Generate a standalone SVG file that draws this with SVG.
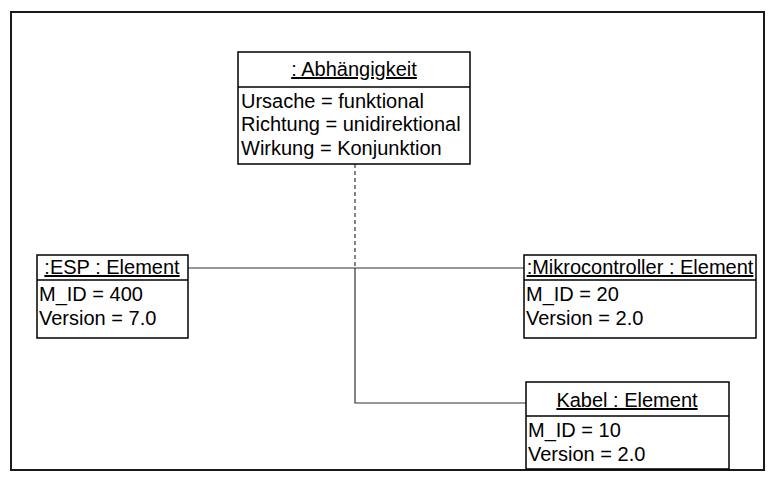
<svg xmlns="http://www.w3.org/2000/svg" width="774" height="500" viewBox="0 0 774 500">
  <style>
    .box { fill: #ffffff; stroke: #000000; stroke-width: 1.5; }
    .sep { stroke: #000000; stroke-width: 1.5; }
    .frame { fill: none; stroke: #1a1a1a; stroke-width: 2; }
    .link { fill: none; stroke: #333333; stroke-width: 1.2; }
    .dash { stroke-dasharray: 4 3; }
    text { font-family: "Liberation Sans", Arial, sans-serif; font-size: 20px; fill: #000000; }
    .hd { text-anchor: middle; text-decoration: underline; }
  </style>

  <!-- outer page border -->
  <rect class="frame" x="11" y="12" width="753" height="458"/>

  <g id="connectors">
    <line class="link" x1="188" y1="268" x2="524" y2="268"/>
    <line class="link dash" x1="355" y1="164" x2="355" y2="268"/>
    <polyline class="link" points="355,268 355,403 526,403"/>
  </g>

  <g id="abhaengigkeit">
    <rect class="box" x="238" y="52" width="232" height="112"/>
    <line class="sep" x1="238" y1="87" x2="470" y2="87"/>
    <text class="hd" x="354" y="76">: Abhängigkeit</text>
    <text x="241" y="108">Ursache = funktional</text>
    <text x="241" y="131">Richtung = unidirektional</text>
    <text x="241" y="155">Wirkung = Konjunktion</text>
  </g>

  <g id="esp">
    <rect class="box" x="37" y="255" width="151" height="83"/>
    <line class="sep" x1="37" y1="280" x2="188" y2="280"/>
    <text class="hd" x="112" y="274">:ESP : Element</text>
    <text x="39" y="301">M_ID = 400</text>
    <text x="39" y="325">Version = 7.0</text>
  </g>

  <g id="mikrocontroller">
    <rect class="box" x="524" y="255" width="232" height="83"/>
    <line class="sep" x1="524" y1="280" x2="756" y2="280"/>
    <text class="hd" x="640" y="274">:Mikrocontroller : Element</text>
    <text x="526" y="301">M_ID = 20</text>
    <text x="526" y="325">Version = 2.0</text>
  </g>

  <g id="kabel">
    <rect class="box" x="526" y="382" width="203" height="87"/>
    <line class="sep" x1="526" y1="416" x2="729" y2="416"/>
    <text class="hd" x="627" y="407">Kabel : Element</text>
    <text x="528" y="437">M_ID = 10</text>
    <text x="528" y="461">Version = 2.0</text>
  </g>
</svg>
